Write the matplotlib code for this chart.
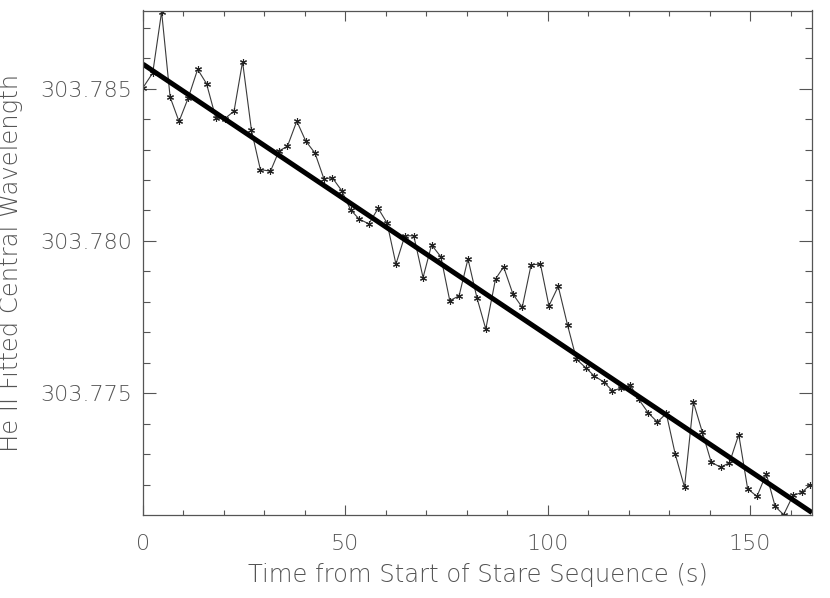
import matplotlib
matplotlib.use("Agg")
import matplotlib.pyplot as plt
import numpy as np
from matplotlib.ticker import MultipleLocator, FormatStrFormatter

# ---- data ----
time_s = [0.0, 2.4, 4.6, 6.7, 8.9, 11.2, 13.5, 15.7, 18.0, 20.2, 22.5, 24.6, 26.8,
          29.0, 31.5, 33.6, 35.7, 38.0, 40.2, 42.5, 44.7, 46.8, 49.1, 51.3, 53.4,
          55.8, 58.1, 60.3, 62.5, 64.7, 66.9, 69.2, 71.3, 73.6, 75.8, 78.1, 80.3,
          82.5, 84.7, 87.1, 89.1, 91.4, 93.7, 95.9, 98.2, 100.3, 102.6, 104.9,
          107.1, 109.4, 111.5, 113.8, 116.0, 118.2, 120.4, 122.5, 124.9, 127.1,
          129.3, 131.5, 133.8, 136.0, 138.2, 140.4, 142.7, 144.9, 147.2, 149.4,
          151.7, 154.0, 156.2, 158.3, 160.6, 162.8, 164.9]

wavelength = [303.78503, 303.78551, 303.78752, 303.78472, 303.78392, 303.78470,
              303.78563, 303.78516, 303.78403, 303.78401, 303.78426, 303.78588,
              303.78363, 303.78234, 303.78229, 303.78295, 303.78311, 303.78393,
              303.78328, 303.78288, 303.78204, 303.78207, 303.78165, 303.78102,
              303.78072, 303.78056, 303.78107, 303.78059, 303.77924, 303.78017,
              303.78017, 303.77880, 303.77987, 303.77948, 303.77804, 303.77820,
              303.77941, 303.77814, 303.77711, 303.77875, 303.77915, 303.77826,
              303.77782, 303.77922, 303.77924, 303.77787, 303.77851, 303.77724,
              303.77612, 303.77584, 303.77557, 303.77538, 303.77508, 303.77518,
              303.77527, 303.77480, 303.77435, 303.77406, 303.77434, 303.77301,
              303.77192, 303.77471, 303.77373, 303.77274, 303.77258, 303.77272,
              303.77365, 303.77187, 303.77162, 303.77236, 303.77129, 303.77102,
              303.77165, 303.77175, 303.77201]

# linear fit coefficients (intercept, slope per second)
fit_intercept = 303.78580
fit_slope = -0.0000890

x_range = (0, 165.3)
y_range = (303.77101, 303.78756)

x_label = "Time from Start of Stare Sequence (s)"
y_label = "He II Fitted Central Wavelength"

# ---- plot ----
fig = plt.figure(figsize=(8.30, 5.98), dpi=100)
ax = fig.add_axes([143/830, 83/598, (812-143)/830, (515-10.5)/598])

t = np.array(time_s)
w = np.array(wavelength)
ax.plot(t, w, color="#3a3a3a", lw=0.8,
        marker=(6, 2, 0), markersize=5, markeredgewidth=0.8,
        markeredgecolor="#222222")

tf = np.array(x_range)
ax.plot(tf, fit_intercept + fit_slope * tf, color="black", lw=3.6,
        solid_capstyle="butt")

ax.set_xlim(*x_range)
ax.set_ylim(*y_range)

ax.xaxis.set_major_locator(MultipleLocator(50))
ax.xaxis.set_minor_locator(MultipleLocator(10))
ax.yaxis.set_major_locator(MultipleLocator(0.005))
ax.yaxis.set_minor_locator(MultipleLocator(0.001))
ax.yaxis.set_major_formatter(FormatStrFormatter("%.3f"))

grey = "#555555"
ax.tick_params(axis="x", which="major", direction="in", length=7.5, width=0.8,
               top=True, color=grey, labelcolor=grey, labelsize=16, pad=14)
ax.tick_params(axis="x", which="minor", direction="in", length=3.8, width=0.8,
               top=True, color=grey)
ax.tick_params(axis="y", which="major", direction="in", length=9.5, width=0.8,
               right=True, color=grey, labelcolor=grey, labelsize=16, pad=8)
ax.tick_params(axis="y", which="minor", direction="in", length=5, width=0.8,
               right=True, color=grey)
for sp in ax.spines.values():
    sp.set_color(grey)
    sp.set_linewidth(0.9)

for lbl in ax.get_xticklabels() + ax.get_yticklabels():
    lbl.set_fontweight("light")

ax.set_xlabel(x_label, fontsize=17.5, color=grey, labelpad=6, fontweight="light")
ax.set_ylabel(y_label, fontsize=17.5, color=grey, labelpad=12, fontweight="light")

fig.savefig("out.png", dpi=100)
